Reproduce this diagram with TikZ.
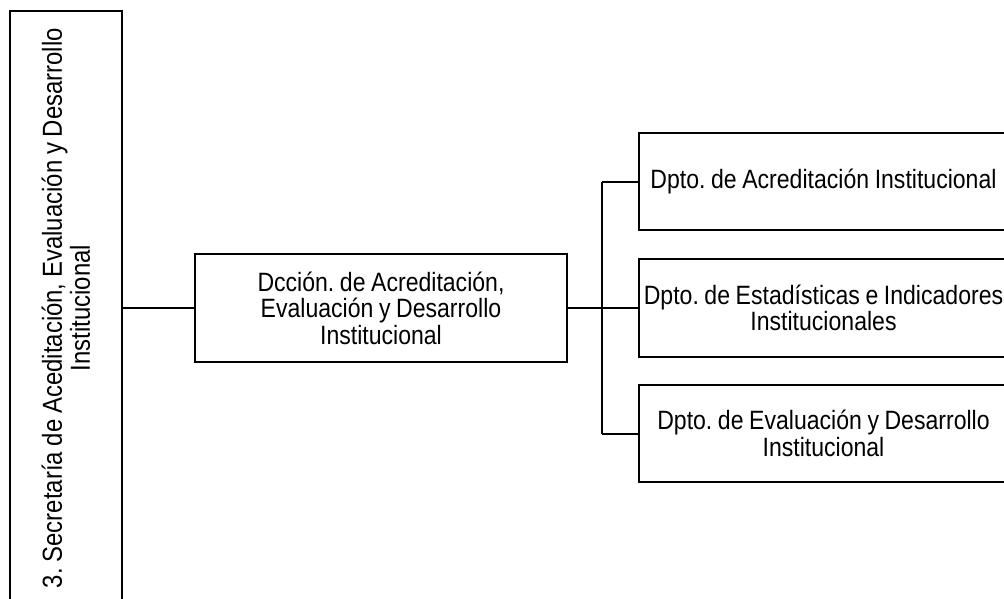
\documentclass[tikz,border=0pt]{standalone}
\usepackage{fontspec}
\setmainfont[FakeStretch=0.87,WordSpace=0.87]{Liberation Sans}
\frenchspacing
\begin{document}
\begin{tikzpicture}[x=1pt,y=-1pt,
  box/.style={draw=black, line width=2pt, fill=none, inner sep=0pt, align=center,
    font=\fontsize{26.5}{26.5}\selectfont},
  conn/.style={draw=black, line width=2pt}]
\useasboundingbox (0,0) rectangle (1004,598);
\clip (0,0) rectangle (1004,598);
\node[box, minimum width=112pt, minimum height=594pt] (sec) at (66,308) {};
\node[align=center, rotate=90, inner sep=0pt, font=\fontsize{27.5}{28}\selectfont] (sectext) at (sec.center)
  {3. Secretaría de Aceditación, Evaluación y Desarrollo\\Institucional};
\node[box, minimum width=372pt, minimum height=108pt] (mid) at (381,308)
  {Dcción. de Acreditación,\\Evaluación y Desarrollo\\Institucional};
\node[box, minimum width=369pt, minimum height=97pt] (d1) at (823.5,181.5)
  {Dpto. de Acreditación Institucional};
\node[box, minimum width=369pt, minimum height=98pt] (d2) at (823.5,308)
  {Dpto. de Estadísticas e Indicadores\\Institucionales};
\node[box, minimum width=369pt, minimum height=97pt] (d3) at (823.5,433.5)
  {Dpto. de Evaluación y Desarrollo\\Institucional};
\coordinate (tr) at (602,308);
\draw[conn] (sec.east) -- (mid.west);
\draw[conn] (mid.east) -- (tr);
\draw[conn] (tr |- d1.west) -- (tr |- d3.west);
\draw[conn] (tr |- d1.west) -- (d1.west);
\draw[conn] (tr |- d2.west) -- (d2.west);
\draw[conn] (tr |- d3.west) -- (d3.west);
\end{tikzpicture}
\end{document}
